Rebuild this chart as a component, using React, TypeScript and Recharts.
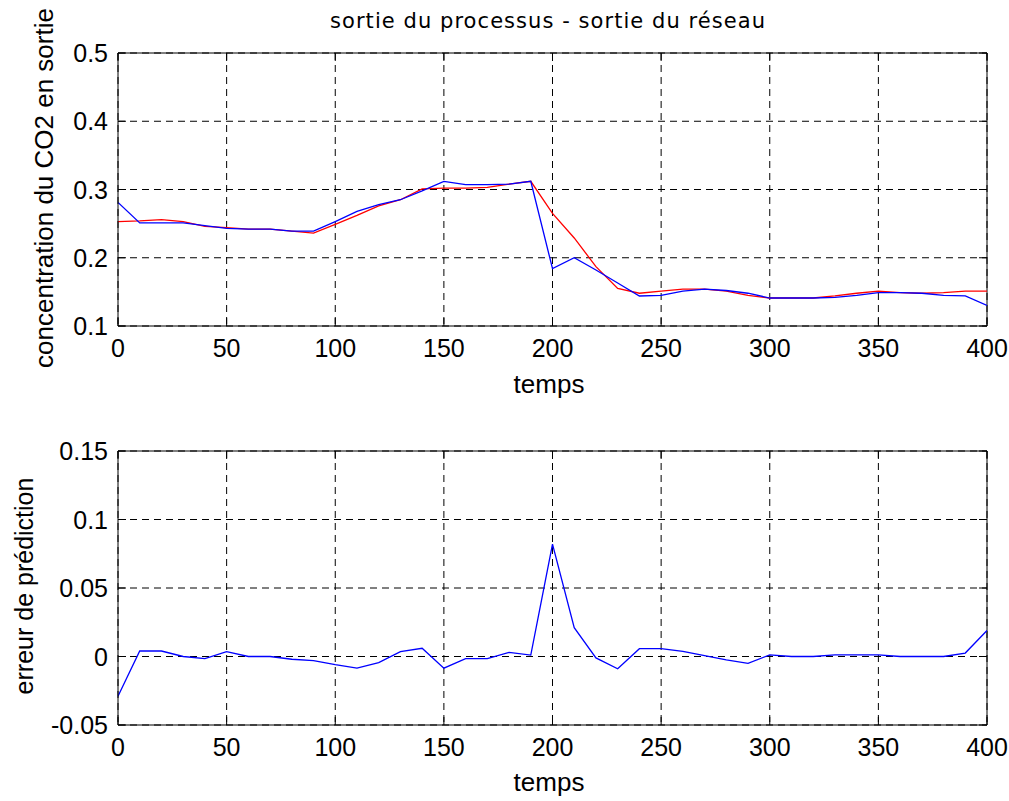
import React from "react";
import { LineChart, Line, XAxis, YAxis, CartesianGrid, ReferenceLine } from "recharts";

const TIME = [0, 10, 20, 30, 40, 50, 60, 70, 80, 90, 100, 110, 120, 130, 140, 150, 160, 170, 180, 190, 200, 210, 220, 230, 240, 250, 260, 270, 280, 290, 300, 310, 320, 330, 340, 350, 360, 370, 380, 390, 400];

// sortie du processus (red)
const PROCESS = [0.253, 0.254, 0.256, 0.253, 0.246, 0.244, 0.242, 0.242, 0.239, 0.236, 0.249, 0.262, 0.276, 0.285, 0.301, 0.302, 0.302, 0.303, 0.308, 0.312, 0.265, 0.229, 0.187, 0.155, 0.148, 0.151, 0.154, 0.154, 0.151, 0.145, 0.141, 0.141, 0.141, 0.144, 0.148, 0.151, 0.149, 0.148, 0.149, 0.151, 0.151];

// sortie du réseau (blue)
const NETWORK = [0.281, 0.251, 0.251, 0.251, 0.247, 0.243, 0.242, 0.242, 0.239, 0.239, 0.253, 0.268, 0.278, 0.285, 0.298, 0.312, 0.307, 0.307, 0.308, 0.312, 0.184, 0.2, 0.182, 0.163, 0.144, 0.145, 0.151, 0.154, 0.152, 0.148, 0.141, 0.141, 0.141, 0.142, 0.145, 0.149, 0.149, 0.148, 0.145, 0.144, 0.13];

// erreur de prédiction
const ERROR = [-0.029, 0.004, 0.004, 0.0, -0.0015, 0.0035, 0.0, 0.0, -0.002, -0.003, -0.006, -0.0085, -0.0045, 0.0035, 0.006, -0.0085, -0.0015, -0.0015, 0.003, 0.001, 0.082, 0.021, -0.001, -0.009, 0.0057, 0.0057, 0.0037, 0.0007, -0.0025, -0.005, 0.0012, 0.0, 0.0, 0.0012, 0.0012, 0.0012, 0.0, 0.0, 0.0, 0.0025, 0.019];

const X_TICKS = [0, 50, 100, 150, 200, 250, 300, 350, 400];
const Y1_TICKS = [0.1, 0.2, 0.3, 0.4, 0.5];
const Y1_LABELS = ["0.1", "0.2", "0.3", "0.4", "0.5"];
const Y2_TICKS = [-0.05, 0, 0.05, 0.1, 0.15];
const Y2_LABELS = ["-0.05", "0", "0.05", "0.1", "0.15"];

const TITLE = "sortie du processus - sortie du réseau";
const X_LABEL = "temps";
const Y1_LABEL = "concentration du CO2 en sortie";
const Y2_LABEL = "erreur de prédiction";

const FONT = "'Liberation Sans', Arial, sans-serif";
const TITLE_FONT = "'DejaVu Sans', 'Liberation Sans', sans-serif";
const W = 1009;
const LEFT = 118;
const RIGHT = 987;
const TICK_LEN = 8;

const data1 = TIME.map((t, i) => ({ t, process: PROCESS[i], network: NETWORK[i] }));
const data2 = TIME.map((t, i) => ({ t, error: ERROR[i] }));

function makeXTick(top: number, bottom: number) {
  return (props: any) => {
    const { x, payload } = props;
    return (
      <g>
        <line x1={x} x2={x} y1={bottom} y2={bottom - TICK_LEN} stroke="#000" strokeWidth={1} />
        <line x1={x} x2={x} y1={top} y2={top + TICK_LEN} stroke="#000" strokeWidth={1} />
        <text x={x} y={bottom + 31} textAnchor="middle" fontFamily={FONT} fontSize={25} fill="#000">
          {String(payload.value)}
        </text>
      </g>
    );
  };
}

function makeYTick(ticks: number[], labels: string[]) {
  return (props: any) => {
    const { y, payload } = props;
    const idx = ticks.indexOf(payload.value);
    const label = idx >= 0 ? labels[idx] : String(payload.value);
    return (
      <g>
        <line x1={LEFT} x2={LEFT + TICK_LEN} y1={y} y2={y} stroke="#000" strokeWidth={1} />
        <line x1={RIGHT} x2={RIGHT - TICK_LEN} y1={y} y2={y} stroke="#000" strokeWidth={1} />
        <text x={108} y={y + 9} textAnchor="end" fontFamily={FONT} fontSize={25} fill="#000">
          {label}
        </text>
      </g>
    );
  };
}

// chart 1 layout
const C1_H = 400;
const C1_TOP = 53;
const C1_BOTTOM = 326;
// chart 2 layout (offset 400)
const C2_H = 401;
const C2_TOP = 51;
const C2_BOTTOM = 325;

export default function App() {
  return (
    <div style={{ position: "absolute", left: 0, top: 0, width: W, height: 801, background: "#fff", overflow: "hidden" }}>
      <div style={{ position: "absolute", left: 0, top: 0 }}>
        <LineChart width={W} height={C1_H} data={data1} margin={{ top: C1_TOP, right: W - RIGHT, left: 0, bottom: 0 }}>
          <CartesianGrid stroke="#000" strokeDasharray="7 5" strokeWidth={1} />
          <XAxis
            dataKey="t"
            type="number"
            domain={[0, 400]}
            ticks={X_TICKS}
            height={C1_H - C1_BOTTOM}
            axisLine={{ stroke: "#000", strokeWidth: 1 }}
            tickLine={false}
            tick={makeXTick(C1_TOP, C1_BOTTOM)}
            interval={0}
            allowDataOverflow
          />
          <YAxis
            type="number"
            domain={[0.1, 0.5]}
            ticks={Y1_TICKS}
            width={LEFT}
            axisLine={{ stroke: "#000", strokeWidth: 1 }}
            tickLine={false}
            tick={makeYTick(Y1_TICKS, Y1_LABELS)}
            interval={0}
            allowDataOverflow
          />
          <ReferenceLine y={0.5} stroke="#000" strokeWidth={1} />
          <ReferenceLine x={400} stroke="#000" strokeWidth={1} />
          <Line type="linear" dataKey="process" stroke="#ff0000" strokeWidth={1.3} dot={false} isAnimationActive={false} />
          <Line type="linear" dataKey="network" stroke="#0000ff" strokeWidth={1.3} dot={false} isAnimationActive={false} />
        </LineChart>
      </div>
      <div style={{ position: "absolute", left: 0, top: 400 }}>
        <LineChart width={W} height={C2_H} data={data2} margin={{ top: C2_TOP, right: W - RIGHT, left: 0, bottom: 0 }}>
          <CartesianGrid stroke="#000" strokeDasharray="7 5" strokeWidth={1} />
          <XAxis
            dataKey="t"
            type="number"
            domain={[0, 400]}
            ticks={X_TICKS}
            height={C2_H - C2_BOTTOM}
            axisLine={{ stroke: "#000", strokeWidth: 1 }}
            tickLine={false}
            tick={makeXTick(C2_TOP, C2_BOTTOM)}
            interval={0}
            allowDataOverflow
          />
          <YAxis
            type="number"
            domain={[-0.05, 0.15]}
            ticks={Y2_TICKS}
            width={LEFT}
            axisLine={{ stroke: "#000", strokeWidth: 1 }}
            tickLine={false}
            tick={makeYTick(Y2_TICKS, Y2_LABELS)}
            interval={0}
            allowDataOverflow
          />
          <ReferenceLine y={0.15} stroke="#000" strokeWidth={1} />
          <ReferenceLine x={400} stroke="#000" strokeWidth={1} />
          <Line type="linear" dataKey="error" stroke="#0000ff" strokeWidth={1.3} dot={false} isAnimationActive={false} />
        </LineChart>
      </div>
      <svg width={W} height={801} style={{ position: "absolute", left: 0, top: 0, pointerEvents: "none" }}>
        <text x={330} y={28} textLength={435} lengthAdjust="spacing" fontFamily={TITLE_FONT} fontSize={21} fill="#000">
          {TITLE}
        </text>
        <text x={549} y={393} textAnchor="middle" fontFamily={FONT} fontSize={26} fill="#000">
          {X_LABEL}
        </text>
        <text x={549} y={791} textAnchor="middle" fontFamily={FONT} fontSize={26} fill="#000">
          {X_LABEL}
        </text>
        <text x={53} y={188} textAnchor="middle" transform="rotate(-90 53 188)" fontFamily={FONT} fontSize={26} fill="#000">
          {Y1_LABEL}
        </text>
        <text x={33} y={586} textAnchor="middle" transform="rotate(-90 33 586)" fontFamily={FONT} fontSize={25} fill="#000">
          {Y2_LABEL}
        </text>
      </svg>
    </div>
  );
}
